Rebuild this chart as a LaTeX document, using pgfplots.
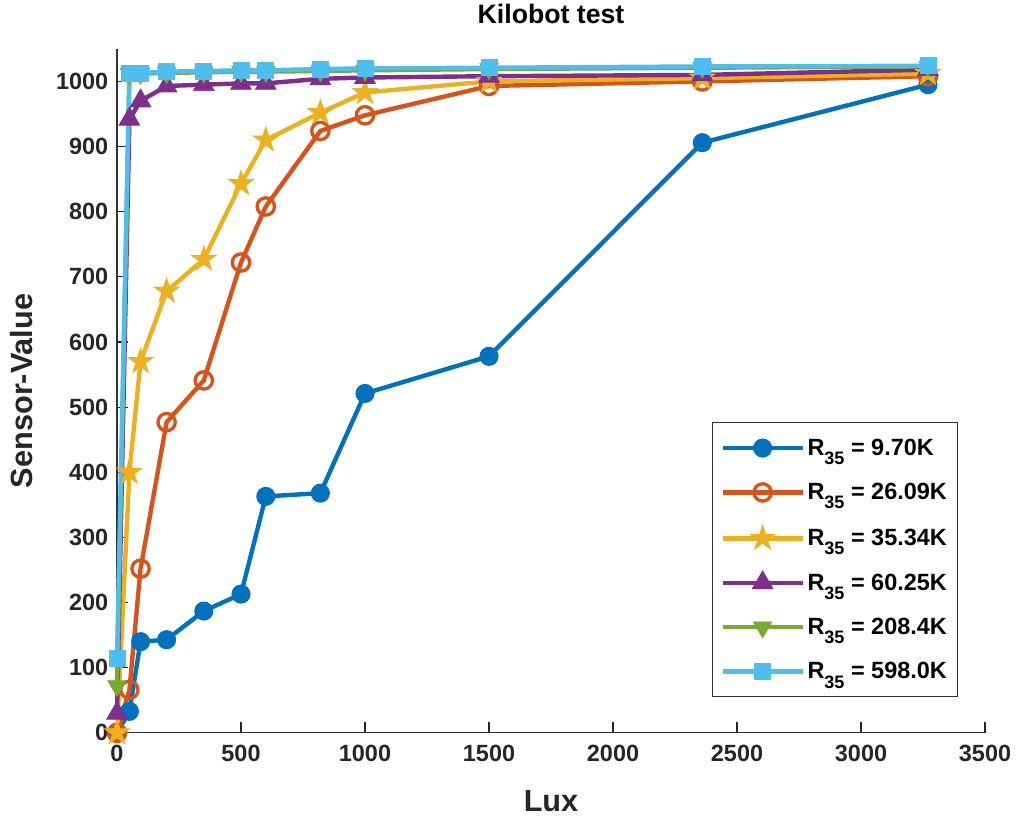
\documentclass[border=0pt]{standalone}
\usepackage{fontspec}
\setmainfont{Liberation Sans}
\usepackage{pgfplots}
\pgfplotsset{compat=1.18}
\definecolor{mblue}{rgb}{0,0.447,0.741}
\definecolor{morange}{rgb}{0.850,0.325,0.098}
\definecolor{myellow}{rgb}{0.929,0.694,0.125}
\definecolor{mpurple}{rgb}{0.494,0.184,0.556}
\definecolor{mgreen}{rgb}{0.466,0.674,0.188}
\definecolor{mcyan}{rgb}{0.301,0.745,0.933}

% filled five-pointed star (like MATLAB's pentagram)
\pgfdeclareplotmark{fstar}{%
  \pgfpathmoveto{\pgfpointpolar{90}{\pgfplotmarksize}}%
  \pgfpathlineto{\pgfpointpolar{126}{0.382\pgfplotmarksize}}%
  \pgfpathlineto{\pgfpointpolar{162}{\pgfplotmarksize}}%
  \pgfpathlineto{\pgfpointpolar{198}{0.382\pgfplotmarksize}}%
  \pgfpathlineto{\pgfpointpolar{234}{\pgfplotmarksize}}%
  \pgfpathlineto{\pgfpointpolar{270}{0.382\pgfplotmarksize}}%
  \pgfpathlineto{\pgfpointpolar{306}{\pgfplotmarksize}}%
  \pgfpathlineto{\pgfpointpolar{342}{0.382\pgfplotmarksize}}%
  \pgfpathlineto{\pgfpointpolar{18}{\pgfplotmarksize}}%
  \pgfpathlineto{\pgfpointpolar{54}{0.382\pgfplotmarksize}}%
  \pgfpathclose
  \pgfusepathqfillstroke
}

\newcommand{\Rs}{R\raisebox{-7pt}{\fontsize{13.5}{14}\selectfont 35}}

% Lux and sensor readings for each R35
\pgfplotstableread{
lux  a    b    c    d    e    f
0    0    0    0    30   72   115
50   33   66   400  942  1012 1012
95   140  252  570  970  1012 1013
200  143  477  678  993  1013 1015
350  187  541  727  995  1014 1016
500  213  722  843  997  1015 1017
600  363  808  910  997  1015 1017
820  368  924  952  1004 1016 1019
1000 521  948  983  1006 1017 1020
1500 578  993  1000 1008 1019 1021
2360 906  1000 1005 1010 1021 1023
3270 995  1008 1012 1018 1023 1024
}\data

\begin{document}
\begin{tikzpicture}
\begin{axis}[
    scale only axis,
    width=651pt, height=513pt,
    xmin=0, xmax=3500, ymin=0, ymax=1050,
    xtick={0,500,...,3500},
    ytick={0,100,...,1000},
    axis lines=left,
    axis line style={-, line width=0.8pt, black!80},
    tick align=inside,
    major tick length=8pt,
    tick style={black!85, line width=0.8pt},
    /pgf/number format/assume math mode=true,
    /pgf/number format/set thousands separator={},
    tick label style={font=\fontsize{17.6}{20}\selectfont\bfseries, text=black!85},
    yticklabel style={xshift=-3pt},
    xticklabel style={yshift=-6pt},
    title={Kilobot test},
    title style={font=\fontsize{20}{22}\selectfont\bfseries, at={(axis description cs:0.5,1.025)}, anchor=base},
    xlabel={Lux},
    ylabel={Sensor-Value},
    label style={font=\fontsize{23}{26}\selectfont\bfseries, text=black!85},
    xlabel style={at={(axis description cs:0.5,-0.1155)}, anchor=base},
    ylabel style={at={(axis description cs:-0.0968,0.5)}, anchor=base, rotate=0},
    clip=false,
    every axis plot/.append style={line width=3.3pt},
    legend style={at={(0.969,0.454)}, anchor=north east,
        font=\fontsize{17.6}{20}\selectfont\bfseries,
        draw=black!80, line width=0.8pt,
        row sep=15.5pt, inner xsep=6pt, inner ysep=10pt, cells={anchor=west}},
    legend image code/.code={
        \draw[mark repeat=2,mark phase=2] plot coordinates {(0pt,0pt) (30pt,0pt) (60pt,0pt)};},
]
\addplot[mblue, mark=*, mark size=5.5pt] table[x=lux,y=a] {\data};
\addlegendentry{\Rs{} = 9.70K}
\addplot[morange, mark=o, mark size=6.5pt, mark options={line width=2.5pt, fill=none}] table[x=lux,y=b] {\data};
\addlegendentry{\Rs{} = 26.09K}
\addplot[myellow, mark=fstar, mark size=10pt, mark options={line width=0.5pt}] table[x=lux,y=c] {\data};
\addlegendentry{\Rs{} = 35.34K}
\addplot[mpurple, mark=triangle*, mark size=9pt, mark options={line width=0.5pt}] table[x=lux,y=d] {\data};
\addlegendentry{\Rs{} = 60.25K}
\addplot[mgreen, mark=triangle*, mark size=8pt, mark options={rotate=180, line width=0.5pt}] table[x=lux,y=e] {\data};
\addlegendentry{\Rs{} = 208.4K}
\addplot[mcyan, mark=square*, mark size=6pt, mark options={line width=0.5pt}] table[x=lux,y=f] {\data};
\addlegendentry{\Rs{} = 598.0K}
\path (rel axis cs:-0.1348,-0.1199) rectangle (rel axis cs:1.0357,1.0629);
\end{axis}
\end{tikzpicture}
\end{document}
